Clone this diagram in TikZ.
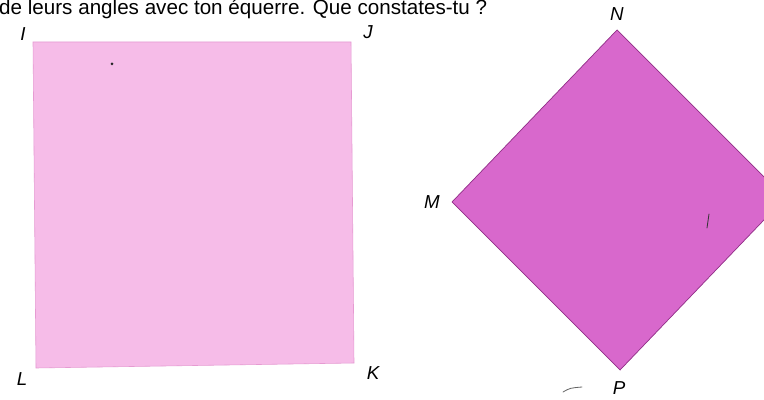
\documentclass[tikz,border=0pt]{standalone}
\usepackage{fontspec}
\setmainfont{Liberation Sans}
\usepackage{xcolor}
\usepackage{tikz}
\usetikzlibrary{positioning}

\definecolor{paleRose}{RGB}{246,188,232}
\definecolor{paleRoseEdge}{RGB}{230,155,210}
\definecolor{orchidFill}{RGB}{216,104,204}
\definecolor{orchidEdge}{RGB}{145,45,135}

\tikzset{
  vlabel/.style={font=\fontsize{16}{18}\selectfont\itshape, inner sep=0pt},
  speck/.style={draw=black!80, line width=0.7pt, line cap=round}
}

\begin{document}
\begin{tikzpicture}[x=0.03cm, y=-0.03cm]
  \useasboundingbox (0,0) rectangle (764,400);
  \clip (0,0) rectangle (764,400);
  \fill[white] (0,0) rectangle (764,400);
  %% question line, cut at the top of the page
  \node[anchor=base west, inner sep=0pt, font=\fontsize{17.6}{20}\selectfont]
    (question) at (-1,15) {de leurs angles avec ton équerre. Que constates-tu ?};
  %% (a) square IJKL
  \coordinate (I) at (33,42);
  \coordinate (J) at (351,42);
  \coordinate (K) at (354,363);
  \coordinate (L) at (36,368);
  \filldraw[fill=paleRose, draw=paleRoseEdge, line width=0.5pt] (I) -- (J) -- (K) -- (L) -- cycle;
  \node[vlabel] (lblI) at (23,34) {I};
  \node[vlabel] (lblJ) at (368,32) {J};
  \node[vlabel] (lblK) at (373,373) {K};
  \node[vlabel] (lblL) at (22,379) {L};
  %% (b) square MNOP standing on a corner
  \coordinate (M) at (452,202);
  \coordinate (N) at (617,30);
  \coordinate (O) at (785,198);
  \coordinate (P) at (620,370);
  \filldraw[fill=orchidFill, draw=orchidEdge, line width=0.6pt] (M) -- (N) -- (O) -- (P) -- cycle;
  \node[vlabel] (lblN) at (617,14) {N};
  \node[vlabel] (lblM) at (432,202) {M};
  \node[vlabel] (lblP) at (619,388) {P};
  %% stray pen marks of the scan
  \fill[black!85] (112,64) circle (1.5);
  \draw[speck] (707,228) -- (709,214);
  \draw[speck, black!60] (563,392) .. controls (570,388) .. (582,387);
\end{tikzpicture}
\end{document}
